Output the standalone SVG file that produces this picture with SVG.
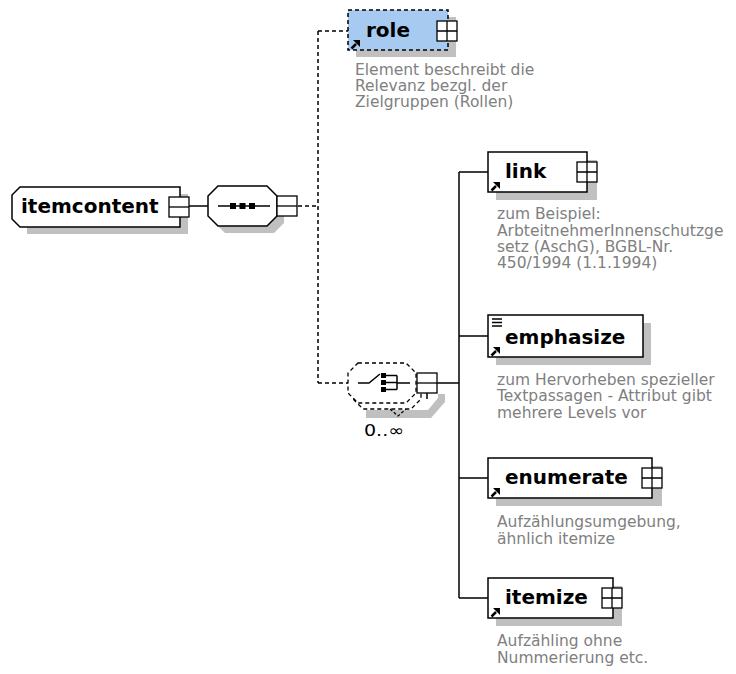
<svg xmlns="http://www.w3.org/2000/svg" xmlns:xlink="http://www.w3.org/1999/xlink" width="736" height="674" viewBox="0 0 736 674">
<style>
.bg{fill:#ffffff}
.box{fill:#ffffff;stroke:#000;stroke-width:1.5}
.shadow{fill:#c0c0c0}
.exp{fill:#ffffff;stroke:#000;stroke-width:1.3}
.lbl{font-family:"DejaVu Sans","Liberation Sans",sans-serif;font-weight:bold;font-size:20px;fill:#000}
.desc{font-family:"DejaVu Sans","Liberation Sans",sans-serif;font-size:15.5px;fill:#808080}
.line{fill:none;stroke:#000;stroke-width:1.5}
.dash{fill:none;stroke:#000;stroke-width:1.5;stroke-dasharray:4 3}
</style>
<defs>
<g id="arrow"><path d="M0.5,8.5 L5,4" stroke="#000" stroke-width="2.5" fill="none"/><path d="M2,0 H9 V7 Z" fill="#000"/></g>
<g id="plus"><rect x="0" y="0" width="20" height="20" class="exp"/><path d="M0,10 H20 M10,0 V20" stroke="#000" stroke-width="1.3"/></g>
<g id="minus"><rect x="0" y="0" width="20" height="20" class="exp"/><path d="M0,10 H20" stroke="#000" stroke-width="1.3"/></g>
</defs>
<rect class="bg" x="0" y="0" width="736" height="674"/>

<g id="connectors">
<path class="line" d="M189,206 H208"/>
<path class="dash" d="M298,206 H318 M318,31 V383 M318,31 H348 M318,383 H348"/>
<path class="line" d="M437,383 H459 M459,172 V598 M459,172 H488 M459,336 H488 M459,478 H488 M459,598 H488"/>
</g>

<g id="itemcontent">
<path class="shadow" d="M27,194 H188 V234 H27 Z"/>
<path class="box" d="M20,187 H180 V227 H20 L12,219 V195 Z"/>
<text class="lbl" x="21" y="213">itemcontent</text>
<use xlink:href="#minus" x="169" y="197"/>
</g>

<g id="sequence">
<path class="shadow" d="M225,193 H274 L284,203 V223 L274,233 H225 L215,223 V203 Z"/>
<path class="box" d="M218,186 H267 L277,196 V216 L267,226 H218 L208,216 V196 Z"/>
<path class="line" d="M218,206 H270"/>
<rect x="230" y="203" width="6" height="6" fill="#000"/>
<rect x="239.5" y="203" width="6" height="6" fill="#000"/>
<rect x="249" y="203" width="6" height="6" fill="#000"/>
<use xlink:href="#minus" x="277" y="196"/>
</g>

<g id="role">
<rect class="shadow" x="356" y="17" width="100" height="40"/>
<rect x="348" y="10" width="100" height="40" fill="#a6caf0" stroke="#000" stroke-width="1.5" stroke-dasharray="4 3"/>
<text class="lbl" x="366" y="37">role</text>
<use xlink:href="#plus" x="437" y="21"/>
<use xlink:href="#arrow" x="351" y="40"/>
<text class="desc" x="355" y="75">Element beschreibt die</text>
<text class="desc" x="355" y="91">Relevanz bezgl. der</text>
<text class="desc" x="355" y="107">Zielgruppen (Rollen)</text>
</g>

<g id="choice">
<path class="shadow" d="M366,410 H428 L438,398 V394 H445 V402 L431,418 H366 Z"/>
<path d="M363,369 H411 L421,379 V399 L411,409 H363 L353,399 V379 Z" fill="#ffffff" stroke="#000" stroke-width="1.3" stroke-dasharray="4 3"/>
<path d="M390,409 L398,416 L406,409" fill="none" stroke="#000" stroke-width="1.3" stroke-dasharray="3 2"/>
<path d="M358,363 H406 L416,373 V393 L406,403 H358 L348,393 V373 Z" fill="#ffffff" stroke="#000" stroke-width="1.3" stroke-dasharray="4 3"/>
<path class="line" d="M358,383 H369 L380,374"/>
<rect x="381" y="373" width="5" height="5" fill="#000"/>
<rect x="381" y="380" width="5" height="5" fill="#000"/>
<rect x="381" y="387" width="5" height="5" fill="#000"/>
<path class="line" d="M386,375.5 H397 M386,382.5 H397 M386,389.5 H397 M397,375.5 V389.5 M397,383 H410"/>
<use xlink:href="#minus" x="417" y="373"/>
<path class="line" d="M427,393 V399"/>
<text x="364" y="436" font-family="DejaVu Sans, Liberation Sans, sans-serif" font-size="16" fill="#000" textLength="40" lengthAdjust="spacingAndGlyphs">0..∞</text>
</g>

<g id="link">
<rect class="shadow" x="496" y="160" width="101" height="40"/>
<rect class="box" x="488" y="152" width="99" height="40"/>
<text class="lbl" x="505" y="178">link</text>
<use xlink:href="#plus" x="577" y="162"/>
<use xlink:href="#arrow" x="491" y="182"/>
<text class="desc" x="497" y="219">zum Beispiel:</text>
<text class="desc" x="497" y="236">ArbteitnehmerInnenschutzge</text>
<text class="desc" x="497" y="252">setz (AschG), BGBL-Nr.</text>
<text class="desc" x="497" y="268">450/1994 (1.1.1994)</text>
</g>

<g id="emphasize">
<rect class="shadow" x="496" y="323" width="155" height="42"/>
<rect class="box" x="488" y="315" width="155" height="42"/>
<path d="M492,319 H502 M492,322.5 H502 M492,326 H502" stroke="#000" stroke-width="1.3"/>
<text class="lbl" x="505" y="344">emphasize</text>
<use xlink:href="#arrow" x="491" y="347"/>
<text class="desc" x="497" y="385">zum Hervorheben spezieller</text>
<text class="desc" x="497" y="401">Textpassagen - Attribut gibt</text>
<text class="desc" x="497" y="418">mehrere Levels vor</text>
</g>

<g id="enumerate">
<rect class="shadow" x="496" y="466" width="166" height="40"/>
<rect class="box" x="488" y="458" width="164" height="40"/>
<text class="lbl" x="505" y="484">enumerate</text>
<use xlink:href="#plus" x="642" y="468"/>
<use xlink:href="#arrow" x="491" y="488"/>
<text class="desc" x="497" y="527">Aufzählungsumgebung,</text>
<text class="desc" x="497" y="544">ähnlich itemize</text>
</g>

<g id="itemize">
<rect class="shadow" x="496" y="586" width="126" height="40"/>
<rect class="box" x="488" y="578" width="125" height="40"/>
<text class="lbl" x="505" y="604">itemize</text>
<use xlink:href="#plus" x="602" y="588"/>
<use xlink:href="#arrow" x="491" y="608"/>
<text class="desc" x="497" y="646">Aufzähling ohne</text>
<text class="desc" x="497" y="663">Nummerierung etc.</text>
</g>
</svg>
